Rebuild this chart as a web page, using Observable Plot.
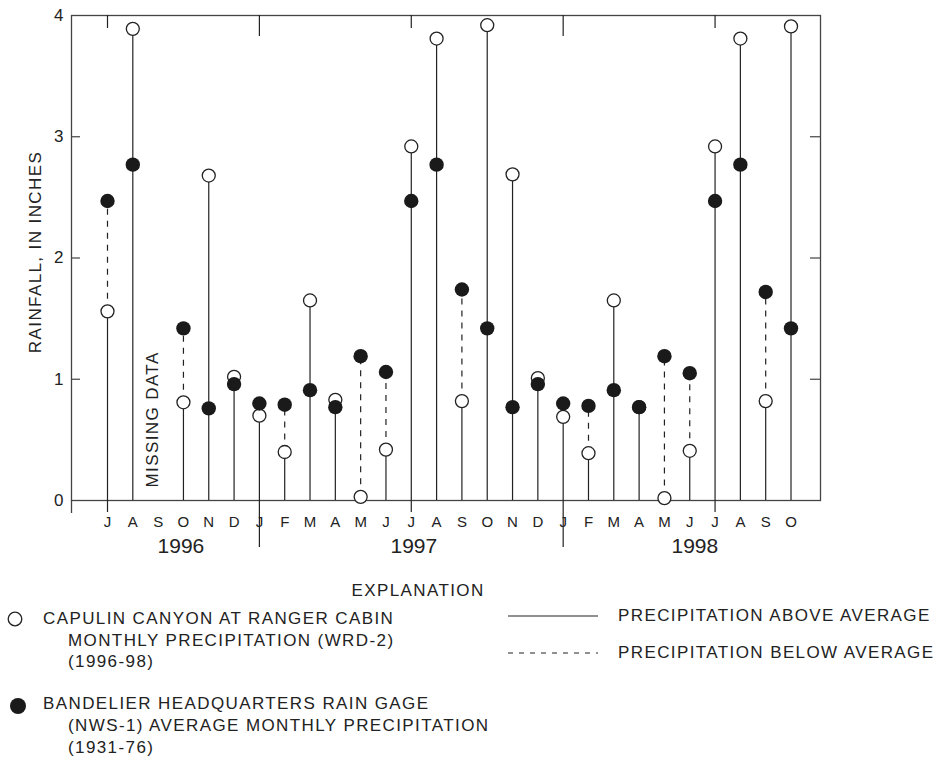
<!DOCTYPE html>
<html>
<head>
<meta charset="utf-8">
<script src="https://cdn.jsdelivr.net/npm/d3@7"></script>
<script src="https://cdn.jsdelivr.net/npm/@observablehq/plot@0.6"></script>
<style>
  body { margin: 0; background: #fff; font-family: "Liberation Sans", Arial, sans-serif; color: #222; }
  #wrap { position: relative; width: 943px; height: 758px; overflow: hidden; }
  #chart { position: absolute; left: 0; top: 0; }
  .lg { position: absolute; font-size: 17px; letter-spacing: 1.4px; white-space: nowrap; line-height: 20px; color: #222; }
  #legsym { position: absolute; left: 0; top: 0; pointer-events: none; }
</style>
</head>
<body>
<div id="wrap">
  <div id="chart"></div>
  <svg id="legsym" width="943" height="758">
    <circle cx="15" cy="619" r="6.8" fill="white" stroke="#222" stroke-width="1.3"></circle>
    <circle cx="18" cy="706" r="8" fill="#1a1a1a"></circle>
    <line x1="508" x2="598" y1="616" y2="616" stroke="#222" stroke-width="1.2"></line>
    <line x1="508" x2="598" y1="653" y2="653" stroke="#222" stroke-width="1.2" stroke-dasharray="5,6"></line>
  </svg>
  <div class="lg" style="left:418px; top:581px; transform:translateX(-50%);">EXPLANATION</div>
  <div class="lg" style="left:43px; top:609px;">CAPULIN CANYON AT RANGER CABIN</div>
  <div class="lg" style="left:68px; top:631px;">MONTHLY PRECIPITATION (WRD-2)</div>
  <div class="lg" style="left:68px; top:652px;">(1996-98)</div>
  <div class="lg" style="left:43px; top:694px;">BANDELIER HEADQUARTERS RAIN GAGE</div>
  <div class="lg" style="left:68px; top:716px;">(NWS-1) AVERAGE MONTHLY PRECIPITATION</div>
  <div class="lg" style="left:68px; top:738px;">(1931-76)</div>
  <div class="lg" style="left:618px; top:606px;">PRECIPITATION ABOVE AVERAGE</div>
  <div class="lg" style="left:618px; top:643px;">PRECIPITATION BELOW AVERAGE</div>
</div>
<script>
// Month letters, July 1996 through October 1998
const months = ["J","A","S","O","N","D","J","F","M","A","M","J","J","A","S","O","N","D","J","F","M","A","M","J","J","A","S","O"];
// Calendar month number (0 = January) of the first month shown
const firstCalendarMonth = 6;
// Capulin Canyon at Ranger Cabin, monthly precipitation (WRD-2), inches (null = missing data)
const capulin = [1.56, 3.89, null, 0.81, 2.68, 1.02, 0.70, 0.40, 1.65, 0.83, 0.03, 0.42,
                 2.92, 3.81, 0.82, 3.92, 2.69, 1.01, 0.69, 0.39, 1.65, 0.77, 0.02, 0.41,
                 2.92, 3.81, 0.82, 3.91];
// Bandelier Headquarters rain gage (NWS-1), average monthly precipitation 1931-76, inches
const average = [2.47, 2.77, null, 1.42, 0.76, 0.96, 0.80, 0.79, 0.91, 0.77, 1.19, 1.06,
                 2.47, 2.77, 1.74, 1.42, 0.77, 0.96, 0.80, 0.78, 0.91, 0.77, 1.19, 1.05,
                 2.47, 2.77, 1.72, 1.42];
const years = ["1996", "1997", "1998"];
const yearLabelAt = [2.9, 12.1, 23.2];
const yTicks = [0, 1, 2, 3, 4];
const yTitle = "RAINFALL, IN INCHES";
const missingLabel = "MISSING DATA";

const rows = months.map((m, i) => ({i, m, cal: (firstCalendarMonth + i) % 12, cap: capulin[i], avg: average[i]}));
const withCap = rows.filter(d => d.cap != null);
const withAvg = rows.filter(d => d.avg != null);
const below = rows.filter(d => d.cap != null && d.avg != null && d.avg > d.cap);
const missing = rows.filter(d => d.cap == null);
const julyIdx = rows.filter(d => d.cal === 6).map(d => d.i);
const janIdx = rows.filter(d => d.cal === 0).map(d => d.i);
const yearRows = years.map((y, k) => ({year: y, x: yearLabelAt[k]}));

const W = 943, H = 570, mL = 71, mR = 123, mT = 15, mB = 70;
const frameH = H - mT - mB;   // 485
const frameW = W - mL - mR;   // 749
const xDomain = [-1.422, 28.165];
const ink = "#222";

const plot = Plot.plot({
  width: W, height: H,
  marginLeft: mL, marginRight: mR, marginTop: mT, marginBottom: mB,
  style: {fontFamily: "'Liberation Sans', Arial, sans-serif", fontSize: "15px", color: ink, background: "transparent", overflow: "visible"},
  x: {domain: xDomain, axis: null},
  y: {domain: [0, 4], axis: null},
  marks: [
    Plot.frame({stroke: "#444", strokeWidth: 1.3}),
    // y axis labels and inward ticks on both sides
    Plot.axisY({ticks: yTicks, tickFormat: d3.format("d"), tickSize: 0, tickPadding: 8, fontSize: 17}),
    Plot.ruleY([1, 2, 3], {stroke: "#444", strokeWidth: 1.2, insetRight: frameW - 9}),
    Plot.ruleY([1, 2, 3], {stroke: "#444", strokeWidth: 1.2, insetLeft: frameW - 10}),
    // month labels
    Plot.axisX({ticks: d3.range(months.length), tickFormat: i => months[i], tickSize: 0, tickPadding: 16, fontSize: 15}),
    // July ticks (short) and January year-boundary ticks (long), top and bottom
    Plot.ruleX(julyIdx, {stroke: ink, strokeWidth: 1.2, insetBottom: frameH - 13}),
    Plot.ruleX(janIdx, {stroke: ink, strokeWidth: 1.2, insetBottom: frameH - 21}),
    Plot.ruleX(julyIdx, {stroke: ink, strokeWidth: 1.2, insetTop: frameH, insetBottom: -12}),
    Plot.ruleX(janIdx, {stroke: ink, strokeWidth: 1.2, insetTop: frameH, insetBottom: -47}),
    Plot.ruleX([xDomain[0]], {stroke: "#444", strokeWidth: 1.3, insetTop: frameH, insetBottom: -13}),
    // year labels
    Plot.text(yearRows, {x: "x", text: "year", frameAnchor: "bottom", dy: 52, fontSize: 21}),
    // y title
    Plot.text([yTitle], {frameAnchor: "left", textAnchor: "middle", dx: -36, dy: -6, rotate: -90, fontSize: 17}),
    // missing data note
    Plot.text(missing, {x: "i", text: () => missingLabel, frameAnchor: "bottom", dy: -13, rotate: -90, textAnchor: "start", fontSize: 17}),
    // stems
    Plot.ruleX(withCap, {x: "i", y1: 0, y2: "cap", stroke: ink, strokeWidth: 1.2}),
    Plot.ruleX(below, {x: "i", y1: "cap", y2: "avg", stroke: ink, strokeWidth: 1.2, strokeDasharray: "6,6"}),
    // points
    Plot.dot(withCap, {x: "i", y: "cap", r: 6.5, fill: "white", stroke: ink, strokeWidth: 1.3}),
    Plot.dot(withAvg, {x: "i", y: "avg", r: 7.2, fill: "#1a1a1a", stroke: "none"})
  ]
});

d3.select(plot).selectAll("text")
  .filter(function() { return this.textContent === yTitle || this.textContent === missingLabel; })
  .style("letter-spacing", "1.4px");

document.getElementById("chart").appendChild(plot);
</script>
</body>
</html>
